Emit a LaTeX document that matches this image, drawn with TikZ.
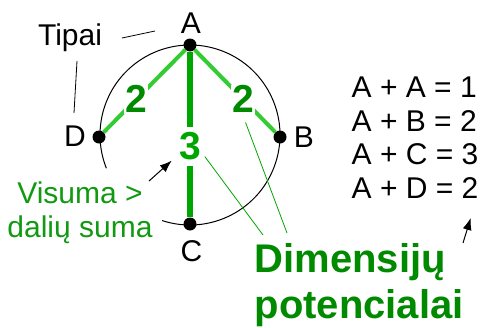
\documentclass[tikz,border=0pt]{standalone}
\usepackage{fontspec}
\setmainfont{Liberation Sans}
\usetikzlibrary{arrows.meta}
\definecolor{lightgreen}{HTML}{33CC33}
\definecolor{midgreen}{HTML}{00A600}
\definecolor{darkgreen}{HTML}{008A00}
\definecolor{textgreen}{HTML}{119911}
\begin{document}
\begin{tikzpicture}[x=1pt,y=-1pt,every node/.style={inner sep=0pt},
    lbl/.style={font=\fontsize{30}{33.5}\selectfont},
    vertex/.style={circle,fill=black,minimum size=13pt},
    num/.style={font=\fontsize{39}{40}\selectfont\bfseries,fill=white,inner sep=1pt},
    leader/.style={midgreen,line width=0.8pt},
    pointer/.style={-{Latex[length=12pt,width=9pt]},line width=1pt}]
  \useasboundingbox (0,0) rectangle (485,327);
  \coordinate (ctr) at (190,135);
  \draw[line width=1pt] ([shift={(-108:90pt)}]ctr) arc[start angle=-108,end angle=201.7,radius=90pt];
  \node[vertex] (A) at (190,45) {};
  \node[vertex] (B) at (280,137) {};
  \node[vertex] (C) at (190,224) {};
  \node[vertex] (D) at (99,137) {};
  \node[lbl] (labA) at (191,23) {A};
  \node[lbl] (labB) at (304,137.5) {B};
  \node[lbl] (labC) at (191.5,251) {C};
  \node[lbl] (labD) at (75,136) {D};
  % potencialai
  \draw[line width=4pt,lightgreen] (A) -- node[num,text=darkgreen,pos=0.6] (twoL) {2} (D);
  \draw[line width=4pt,lightgreen] (A) -- node[num,text=darkgreen,pos=0.6] (twoR) {2} (B);
  \draw[line width=6pt,midgreen] (A) -- node[num,text=midgreen,pos=0.573,inner ysep=6pt] (three) {3} (C);
  % tipai
  \node[lbl,anchor=base] (tipai) at (70,45) {Tipai};
  \coordinate (tA1) at (122,38);
  \coordinate (tA2) at (155,31);
  \coordinate (tD1) at (77,61);
  \coordinate (tD2) at (74,113);
  \draw[line width=0.8pt] (tA1) -- (tA2);
  \draw[line width=0.8pt] (tD1) -- (tD2);
  % lygybes
  \node[lbl,align=left,anchor=north west] (eqs) at (351.5,77) {A + A = 1\\A + B = 2\\A + C = 3\\A + D = 2};
  \coordinate (q1) at (463,243);
  \coordinate (q2) at (470.7,218);
  \draw[pointer] (q1) -- (q2);
  % visuma
  \node[lbl,align=center,text=textgreen,anchor=north] (visuma) at (80,182) {Visuma >\\dalių suma};
  \coordinate (p1) at (149,181);
  \coordinate (p2) at (171.7,160.7);
  \draw[pointer] (p1) -- (p2);
  % dimensiju potencialai
  \node[font=\fontsize{40}{46}\selectfont\bfseries,text=darkgreen,align=left,anchor=north west] (dimpot) at (254.5,243.5) {Dimensijų\\potencialai};
  \coordinate (dimA) at (263,235);
  \coordinate (dimB) at (287,233);
  \draw[leader] (three.-34) -- (dimA);
  \draw[leader,shorten <=7pt] (twoR.south) -- (dimB);
\end{tikzpicture}
\end{document}
